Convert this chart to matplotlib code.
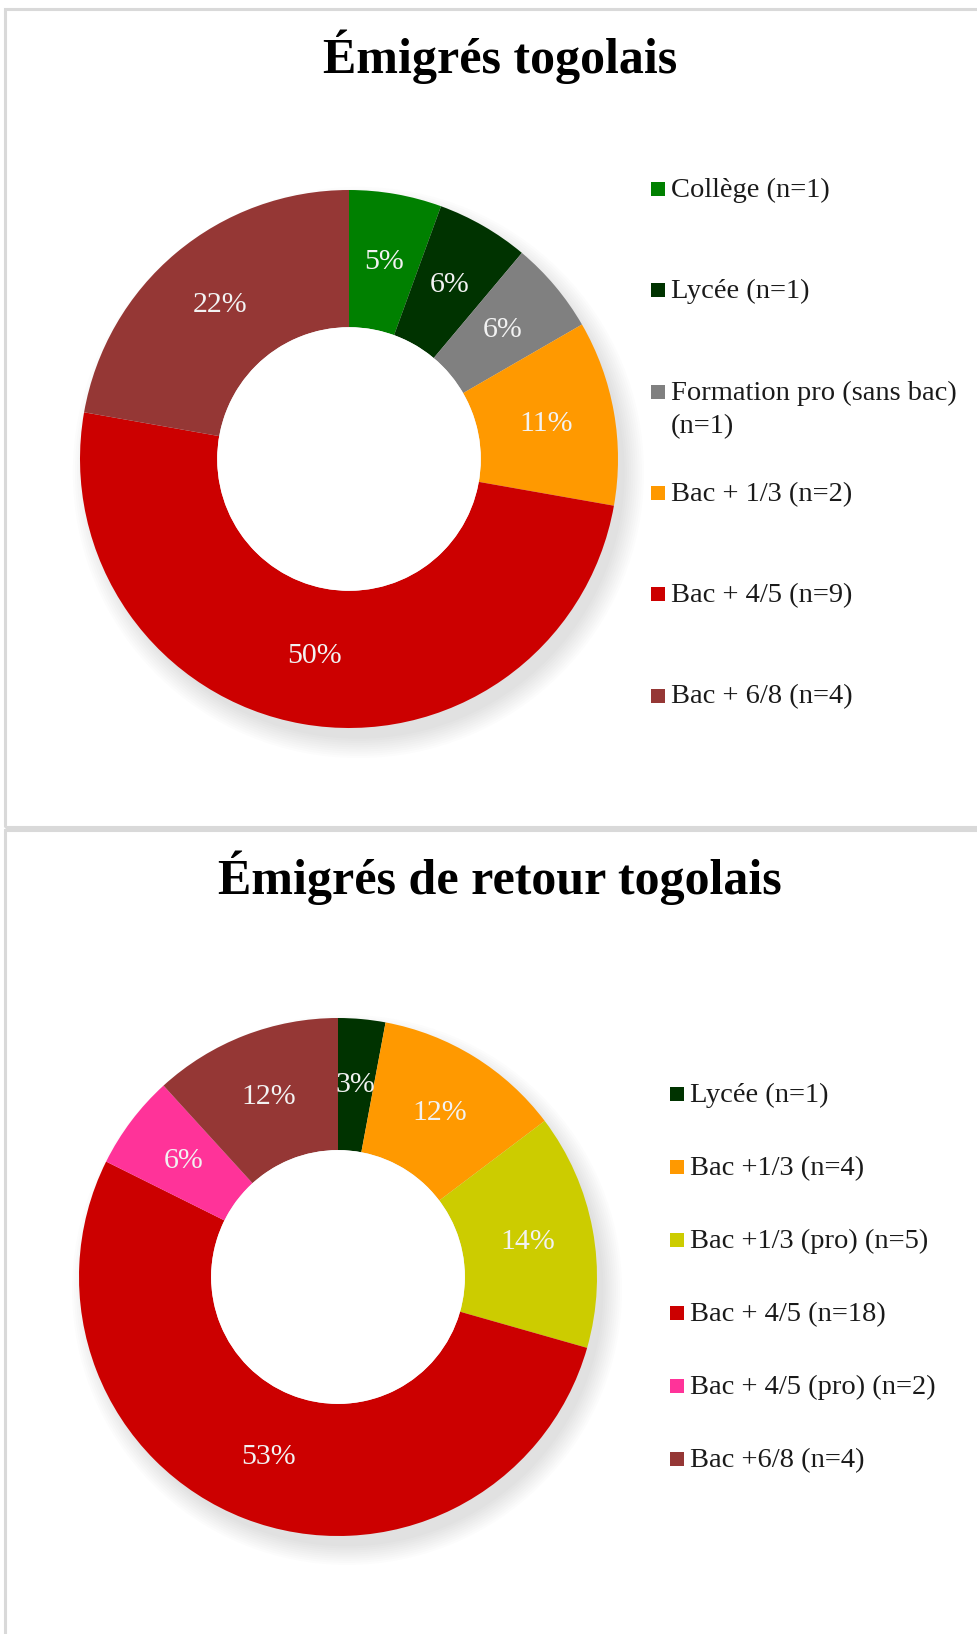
import matplotlib
matplotlib.use("Agg")
import numpy as np
import matplotlib.pyplot as plt
from matplotlib.patches import Rectangle, Circle

# --- data ---
top_title = "Émigrés togolais"
top_labels = ["Collège (n=1)", "Lycée (n=1)", "Formation pro (sans bac)\n(n=1)",
              "Bac + 1/3 (n=2)", "Bac + 4/5 (n=9)", "Bac + 6/8 (n=4)"]
top_counts = [1, 1, 1, 2, 9, 4]
top_pcts = ["5%", "6%", "6%", "11%", "50%", "22%"]
top_colors = ["#008000", "#003300", "#808080", "#FF9900", "#CC0000", "#953735"]

bot_title = "Émigrés de retour togolais"
bot_labels = ["Lycée (n=1)", "Bac +1/3 (n=4)", "Bac +1/3 (pro) (n=5)",
              "Bac + 4/5 (n=18)", "Bac + 4/5 (pro) (n=2)", "Bac +6/8 (n=4)"]
bot_counts = [1, 4, 5, 18, 2, 4]
bot_pcts = ["3%", "12%", "14%", "53%", "6%", "12%"]
bot_colors = ["#003300", "#FF9900", "#CCCC00", "#CC0000", "#FF3399", "#953735"]

W, H = 978, 1634
SERIF = ["Liberation Serif", "DejaVu Serif"]

fig = plt.figure(figsize=(W / 100, H / 100), dpi=100)
fig.patch.set_facecolor("white")


def px_rect(x0, y0, w, h):
    # pixel box (top-left origin) -> figure fraction
    return [x0 / W, 1 - (y0 + h) / H, w / W, h / H]


# panel borders
for (y0, y1) in [(9, 827), (830, H + 20)]:
    fig.patches.append(Rectangle((5 / W, 1 - y1 / H), (W + 20) / W, (y1 - y0) / H,
                                 transform=fig.transFigure, fill=False,
                                 edgecolor="#D9D9D9", linewidth=2.2))


def donut(cx, cy, r, counts, pcts, colors):
    ax = fig.add_axes(px_rect(cx - r * 1.15, cy - r * 1.15, 2.3 * r, 2.3 * r))
    wedges, _ = ax.pie(counts, colors=colors, startangle=90, counterclock=False,
                       radius=1.0, wedgeprops=dict(width=0.51, linewidth=0))
    # pie() resets the limits, so set them afterwards
    ax.set_xlim(-1.15, 1.15)
    ax.set_ylim(-1.15, 1.15)
    ax.set_aspect("equal")
    ax.axis("off")
    # soft drop shadow, lower right
    for i in range(10):
        ax.add_patch(Circle((0.035, -0.05), 0.99 + 0.008 * i, color="black",
                            alpha=0.012, lw=0, zorder=0))
    for w in wedges:
        w.set_zorder(2)
    ax.add_patch(Circle((0, 0), 0.49, color="white", lw=0, zorder=3))
    tot = sum(counts)
    start = 90.0
    for c, p in zip(counts, pcts):
        mid = np.deg2rad(start - 360.0 * c / tot / 2)
        start -= 360.0 * c / tot
        ax.text(0.745 * np.cos(mid), 0.745 * np.sin(mid), p, ha="center", va="center",
                color="#F2F2F2", fontsize=21.5, family=SERIF, zorder=4)


def legend(x_mark, y_first, step, labels, colors):
    for i, (lab, col) in enumerate(zip(labels, colors)):
        y = y_first + i * step
        fig.patches.append(Rectangle(((x_mark - 7) / W, 1 - (y + 7) / H), 14 / W, 14 / H,
                                     transform=fig.transFigure, facecolor=col,
                                     edgecolor="none"))
        lines = lab.split("\n")
        for j, ln in enumerate(lines):
            fig.text((x_mark + 13) / W, 1 - (y + 8 + j * 34) / H, ln, ha="left",
                     va="baseline", fontsize=20.5, family=SERIF, color="#1A1A1A")


fig.text(500 / W, 1 - 57 / H, top_title, ha="center", va="center",
         fontsize=36, fontweight="bold", family=SERIF)
donut(349, 459, 269, top_counts, top_pcts, top_colors)
legend(658, 189, 101.3, top_labels, top_colors)

fig.text(500 / W, 1 - 878 / H, bot_title, ha="center", va="center",
         fontsize=36, fontweight="bold", family=SERIF)
donut(338, 1277, 259, bot_counts, bot_pcts, bot_colors)
legend(677, 1094, 73, bot_labels, bot_colors)

fig.savefig("out.png", dpi=100)
